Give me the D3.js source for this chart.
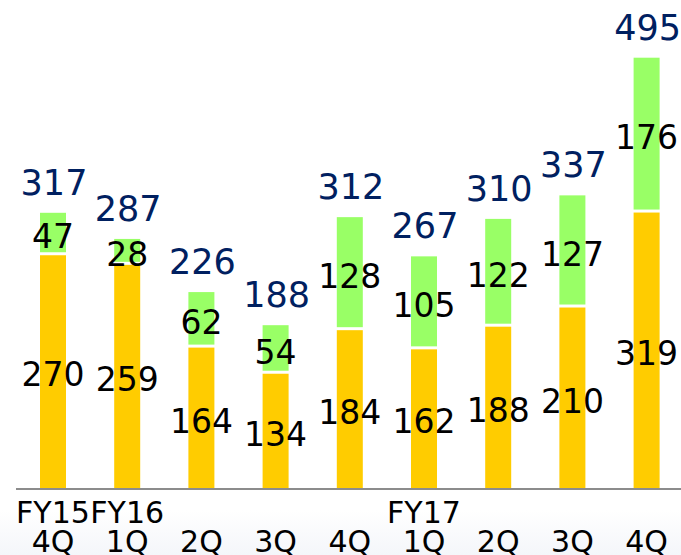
<!DOCTYPE html>
<html>
<head>
<meta charset="utf-8">
<script src="https://cdn.jsdelivr.net/npm/d3@7/dist/d3.min.js"></script>
<style>
  html, body { margin: 0; padding: 0; background: #fff; }
  svg { display: block; }
</style>
</head>
<body>
<svg width="681" height="555"></svg>
<script>
// data
const yearLabels = ["FY15", "FY16", "", "", "", "FY17", "", "", ""];
const quarterLabels = ["4Q", "1Q", "2Q", "3Q", "4Q", "1Q", "2Q", "3Q", "4Q"];
const orangeValues = [270, 259, 164, 134, 184, 162, 188, 210, 319];
const greenValues = [47, 28, 62, 54, 128, 105, 122, 127, 176];

const svg = d3.select("svg");
const width = +svg.attr("width");
const height = +svg.attr("height");

const colorOrange = "#ffcc00";
const colorGreen = "#99ff66";
const colorTotal = "#002060";
const fontFamily = "'DejaVu Sans', Verdana, sans-serif";

const ids = d3.range(quarterLabels.length);
const rows = ids.map(i => ({
  i,
  orange: orangeValues[i],
  green: greenValues[i],
  total: orangeValues[i] + greenValues[i]
}));

// very faint band behind the category labels
const defs = svg.append("defs");
const grad = defs.append("linearGradient")
  .attr("id", "bottomFade")
  .attr("x1", 0).attr("x2", 0).attr("y1", 0).attr("y2", 1);
grad.append("stop").attr("offset", "0%").attr("stop-color", "#ffffff");
grad.append("stop").attr("offset", "100%").attr("stop-color", "#f4f6fa");

svg.append("rect")
  .attr("x", 0).attr("y", 510)
  .attr("width", width).attr("height", height - 510)
  .attr("fill", "url(#bottomFade)");

const baseY = 489;
const barWidth = 26;

const x = d3.scalePoint().domain(ids).range([53, 646.6]);
const y = d3.scaleLinear().domain([0, 495]).range([baseY, 57.7]);

const bars = svg.append("g");

// orange (bottom) segments
bars.selectAll(".seg-orange")
  .data(rows)
  .enter()
  .append("rect")
  .attr("class", "seg-orange")
  .attr("x", d => x(d.i) - barWidth / 2)
  .attr("y", d => y(d.orange))
  .attr("width", barWidth)
  .attr("height", d => y(0) - y(d.orange))
  .attr("fill", colorOrange);

// green (top) segments
bars.selectAll(".seg-green")
  .data(rows)
  .enter()
  .append("rect")
  .attr("class", "seg-green")
  .attr("x", d => x(d.i) - barWidth / 2)
  .attr("y", d => y(d.total))
  .attr("width", barWidth)
  .attr("height", d => y(d.orange) - y(d.total))
  .attr("fill", colorGreen);

// white gap between segments
bars.selectAll(".seg-gap")
  .data(rows)
  .enter()
  .append("line")
  .attr("class", "seg-gap")
  .attr("x1", d => x(d.i) - barWidth / 2 - 1)
  .attr("x2", d => x(d.i) + barWidth / 2 + 1)
  .attr("y1", d => y(d.orange))
  .attr("y2", d => y(d.orange))
  .attr("stroke", "#fff")
  .attr("stroke-width", 3);

// baseline
svg.append("line")
  .attr("x1", 16)
  .attr("x2", width)
  .attr("y1", baseY)
  .attr("y2", baseY)
  .attr("stroke", "#8c8c8c")
  .attr("stroke-width", 2);

// segment values
const labels = svg.append("g")
  .attr("font-family", fontFamily)
  .attr("font-size", "33px")
  .attr("text-anchor", "middle")
  .attr("fill", "#000");

labels.selectAll(".lab-orange")
  .data(rows)
  .enter()
  .append("text")
  .attr("x", d => x(d.i))
  .attr("y", d => (y(0) + y(d.orange)) / 2 + 15)
  .text(d => d.orange);

labels.selectAll(".lab-green")
  .data(rows)
  .enter()
  .append("text")
  .attr("x", d => x(d.i))
  .attr("y", d => (y(d.orange) + y(d.total)) / 2 + 15)
  .text(d => d.green);

// totals
svg.append("g")
  .attr("font-family", fontFamily)
  .attr("font-size", "35px")
  .attr("text-anchor", "middle")
  .attr("fill", colorTotal)
  .selectAll("text")
  .data(rows)
  .enter()
  .append("text")
  .attr("x", d => x(d.i) + 1)
  .attr("y", d => y(d.total) - 18)
  .text(d => d.total);

// category labels (two lines)
const cat = svg.append("g")
  .attr("font-family", fontFamily)
  .attr("font-size", "30px")
  .attr("text-anchor", "middle")
  .attr("fill", "#000");

cat.selectAll(".year")
  .data(ids)
  .enter()
  .append("text")
  .attr("x", i => x(i))
  .attr("y", 523)
  .text(i => yearLabels[i]);

cat.selectAll(".quarter")
  .data(ids)
  .enter()
  .append("text")
  .attr("x", i => x(i))
  .attr("y", 552)
  .text(i => quarterLabels[i]);
</script>
</body>
</html>
